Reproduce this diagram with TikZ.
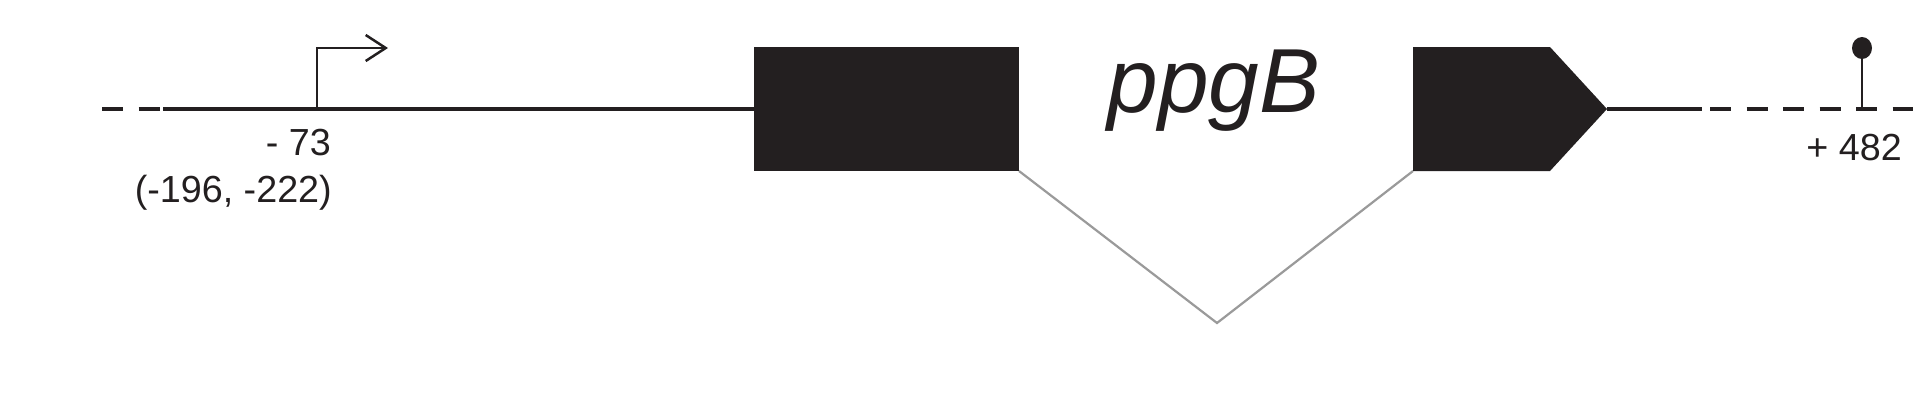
\documentclass[tikz,border=0pt]{standalone}
\usepackage{fontspec}
\setmainfont{Liberation Sans}
\usetikzlibrary{arrows.meta}
\definecolor{ink}{HTML}{231F20}
\definecolor{introngray}{HTML}{9A9A9A}
\tikzset{
  backbone/.style={draw=ink, line width=4pt},
  dashbone/.style={draw=ink, line width=4pt, dash pattern=on 21pt off 15.5pt},
  exonbox/.style={fill=ink, draw=none, inner sep=0pt, outer sep=0pt},
  intronline/.style={draw=introngray, line width=2.2pt},
  promoterline/.style={draw=ink, line width=2.5pt, -{Straight Barb[length=20pt,width=26pt]}},
  stemline/.style={draw=ink, line width=2.5pt},
  poslabel/.style={inner sep=0pt, text=ink, font=\fontsize{37.7}{45}\selectfont},
  genelabel/.style={inner sep=0pt, text=ink, font=\fontsize{91}{100}\selectfont\itshape}
}
\begin{document}
\begin{tikzpicture}[x=1pt,y=-1pt]
\useasboundingbox[fill=white] (0,0) rectangle (1920,400);
% backbone coordinates
\coordinate (ldashA) at (102,109);
\coordinate (ldashB) at (160,109);
\coordinate (lsolid) at (163,109);
\coordinate (prom) at (317,109);
\coordinate (promtop) at (317,48);
\coordinate (promend) at (388,48);
\coordinate (rsolid) at (1702,109);
\coordinate (rdashA) at (1710,109);
\coordinate (rdashB) at (1913,109);
\coordinate (term) at (1862,109);
\coordinate (termtop) at (1862,48);
\coordinate (apex) at (1217,323);
% exon 1
\node[exonbox, minimum width=265pt, minimum height=124pt, anchor=north west] (ex1) at (754,47) {};
% exon 2 (arrow-shaped)
\coordinate (e2nw) at (1413,47);
\coordinate (e2ne) at (1550,47);
\coordinate (e2tip) at (1607,109);
\coordinate (e2se) at (1550,171);
\coordinate (e2sw) at (1413,171);
\fill[ink] (e2nw) -- (e2ne) -- (e2tip) -- (e2se) -- (e2sw) -- cycle;
% backbone
\draw[dashbone] (ldashA) -- (ldashB);
\draw[backbone] (lsolid) -- (ex1.west);
\draw[backbone] (e2tip) -- (rsolid);
\draw[dashbone] (rdashA) -- (rdashB);
% intron
\draw[intronline] (ex1.south east) -- (apex) -- (e2sw);
% promoter
\draw[promoterline] (prom) -- (promtop) -- (promend);
% terminator
\draw[stemline] (term) -- (termtop);
\fill[ink] (termtop) ellipse[x radius=10pt, y radius=11pt];
% labels
\node[poslabel, anchor=base east] (l73) at (331,155) {- 73};
\node[poslabel, anchor=base east] (lalt) at (332,202) {(-196, -222)};
\node[poslabel, anchor=base east] (l482) at (1902,160) {+ 482};
\node[genelabel, anchor=base] (gene) at (1214,112) {ppgB};
\end{tikzpicture}
\end{document}
